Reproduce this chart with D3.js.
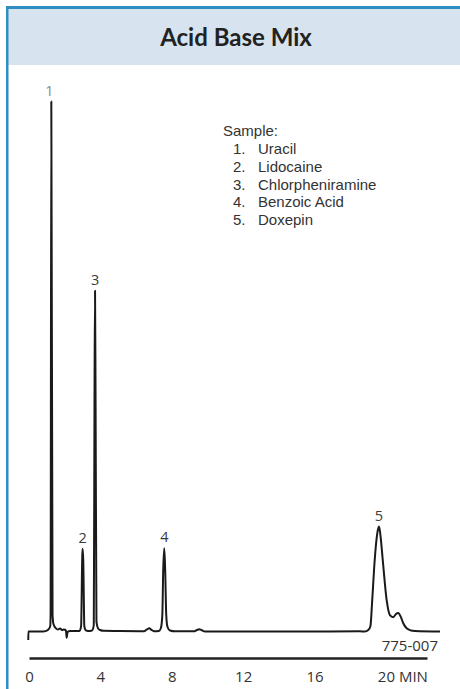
<!DOCTYPE html>
<html>
<head>
<meta charset="utf-8">
<script src="https://cdn.jsdelivr.net/npm/d3@7/dist/d3.min.js"></script>
<style>
  html, body { margin: 0; padding: 0; background: #ffffff; }
  svg { display: block; }
</style>
</head>
<body>
<script>
// Retention time (min) and detector signal (arbitrary units) of the trace
const times = [-0.04, -0.035, 0.8, 1.05, 1.19, 1.21, 1.25, 1.32, 1.37, 1.51, 1.62, 1.74, 1.85, 1.96, 2.07, 2.11, 2.16, 2.3,
  2.83, 2.92, 2.98, 3.0, 3.04, 3.1, 3.19, 3.3,
  3.53, 3.63, 3.67, 3.70, 3.73, 3.78, 3.87, 3.98, 4.2, 5.1, 6.2,
  6.44, 6.61, 6.74, 6.86, 7.0,
  7.28, 7.39, 7.47, 7.52, 7.58, 7.63, 7.69, 7.76, 7.9, 8.18,
  9.24, 9.41, 9.54, 9.69, 9.86, 12.38, 15.18, 18.54,
  18.82, 19.01, 19.13, 19.23, 19.37, 19.5, 19.61, 19.69, 19.82, 20.04, 20.22, 20.41, 20.56, 20.69, 20.84, 20.97, 21.16, 21.4, 21.62, 23.03];
const signal = [-1.6, 0, 0, 0.25, 1.0, 3.1, 100, 3.1, 1.4, 0.6, 0.38, 0.57, 0.28, 0.38, 0.19, -1.2, -0.1, 0.1,
  0.1, 1.0, 13.5, 15.6, 13.5, 1.0, 0.2, 0.1,
  0.2, 1.2, 43.6, 64.3, 43.6, 1.8, 0.57, 0.28, 0.13, 0.1, 0.05,
  0.04, 0.38, 0.6, 0.32, 0.05,
  0.1, 0.66, 3.1, 11.6, 15.7, 11.6, 3.1, 0.85, 0.19, 0.04,
  0.04, 0.28, 0.42, 0.23, 0, 0, 0, 0.04,
  0, 0.28, 1.0, 5.9, 13.5, 18.2, 19.8, 18.2, 13.5, 5.9, 3.1, 2.7, 3.3, 3.5, 2.7, 1.55, 0.6, 0.2, 0.1, 0];

// Numbered peaks: apex time and height
const peakLabels = ["1", "2", "3", "4", "5"];
const peakTimes = [1.25, 3.0, 3.70, 7.58, 19.61];
const peakHeights = [100, 15.6, 64.3, 15.7, 19.8];

// Sample components
const sampleNames = ["Uracil", "Lidocaine", "Chlorpheniramine", "Benzoic Acid", "Doxepin"];

// Time axis
const tickValues = [0, 4, 8, 12, 16, 20];
const axisEnd = 22.3;
const chartTitle = "Acid Base Mix";
const figureCode = "775-007";

const W = 460, H = 689;
const blue = "#2f8dc1", band = "#d7e3ee", ink = "#222222", textInk = "#333333";

const svg = d3.select("body").append("svg").attr("width", W).attr("height", H);

// Panel frame and header band
svg.append("rect").attr("x", 6).attr("y", 6).attr("width", W - 6).attr("height", 59).attr("fill", band);
svg.append("rect").attr("x", 6).attr("y", 6).attr("width", W - 6).attr("height", 3).attr("fill", blue);
svg.append("rect").attr("x", 6).attr("y", 6).attr("width", 2.5).attr("height", H - 6).attr("fill", blue);

svg.append("text")
  .attr("x", 236).attr("y", 46)
  .attr("text-anchor", "middle")
  .attr("font-family", "Lato, 'Noto Sans', sans-serif")
  .attr("font-weight", "bold")
  .attr("font-size", 24)
  .attr("fill", ink)
  .text(chartTitle);

// Scales
const x = d3.scaleLinear().domain([0, axisEnd]).range([29, 427]);
const y = d3.scaleLinear().domain([0, 100]).range([631.5, 101.5]);

// Chromatogram trace
const line = d3.line()
  .x((d, i) => x(times[i]))
  .y(d => y(d))
  .curve(d3.curveMonotoneX);

svg.append("path")
  .datum(signal)
  .attr("d", line)
  .attr("fill", "none")
  .attr("stroke", "#1a1a1a")
  .attr("stroke-width", 2)
  .attr("stroke-linejoin", "round");

// Peak numbers
svg.append("g").selectAll("text")
  .data(peakLabels)
  .join("text")
  .attr("x", (d, i) => x(peakTimes[i]) - (i === 0 ? 2 : 0))
  .attr("y", (d, i) => y(peakHeights[i]) - 6)
  .attr("text-anchor", "middle")
  .attr("font-family", "'Open Sans', sans-serif")
  .attr("font-size", 14.5)
  .attr("fill", (d, i) => i === 0 ? "#8a8a8a" : "#3a3a3a")
  .text(d => d);

// Sample list
const legend = svg.append("g")
  .attr("font-family", "'Liberation Sans', Arial, sans-serif")
  .attr("font-size", 15)
  .attr("fill", textInk);
legend.append("text").attr("x", 223).attr("y", 136).text("Sample:");
sampleNames.forEach((name, i) => {
  const yy = 154.3 + i * 17.7;
  legend.append("text").attr("x", 233).attr("y", yy).text((i + 1) + ".");
  legend.append("text").attr("x", 258).attr("y", yy).text(name);
});

// Time axis
const axis = d3.axisBottom(x)
  .tickValues(tickValues)
  .tickSize(0)
  .tickSizeOuter(0)
  .tickPadding(13.5)
  .tickFormat(d3.format("d"));

const gx = svg.append("g").attr("transform", "translate(0,658)").call(axis);
gx.select(".domain").attr("stroke", ink).attr("stroke-width", 2.6);
gx.selectAll(".tick text")
  .attr("font-family", "'Open Sans', sans-serif")
  .attr("font-size", 15)
  .attr("fill", textInk);

svg.append("text")
  .attr("x", x(20) + 13).attr("y", 682)
  .attr("font-family", "'Open Sans', sans-serif")
  .attr("font-size", 15)
  .attr("fill", textInk)
  .text("MIN");

svg.append("text")
  .attr("x", 438).attr("y", 651)
  .attr("text-anchor", "end")
  .attr("font-family", "'Open Sans', sans-serif")
  .attr("font-size", 15)
  .attr("fill", textInk)
  .text(figureCode);
</script>
</body>
</html>
